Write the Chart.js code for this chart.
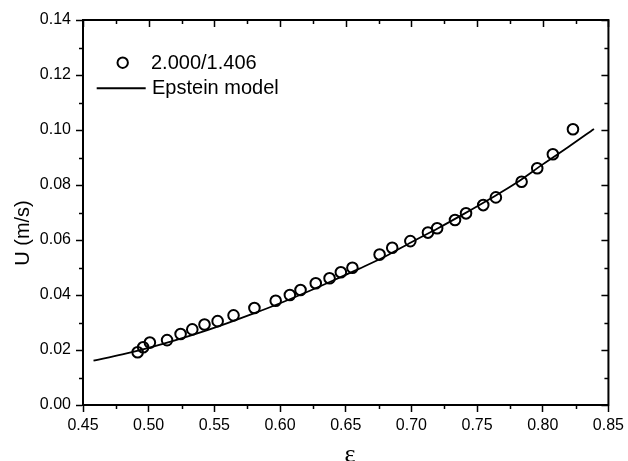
<!DOCTYPE html>
<html>
<head>
<meta charset="utf-8">
<script src="https://cdn.jsdelivr.net/npm/chart.js@4"></script>
<style>
  html, body { margin: 0; padding: 0; background: #fff; }
  #c { display: block; }
</style>
</head>
<body>
<canvas id="c" width="628" height="461"></canvas>
<script>
// ---- data ----
const epsMeasured = [0.4916, 0.4958, 0.5009, 0.5140, 0.5243, 0.5332, 0.5425, 0.5525, 0.5646, 0.5805,
                     0.5967, 0.6075, 0.6156, 0.6272, 0.6377, 0.6463, 0.6551, 0.6758, 0.6854, 0.6992,
                     0.7126, 0.7196, 0.7332, 0.7416, 0.7547, 0.7643, 0.7839, 0.7958, 0.8077, 0.8230];
const uMeasured   = [0.0192, 0.0210, 0.0227, 0.0236, 0.0258, 0.0275, 0.0293, 0.0305, 0.0326, 0.0353,
                     0.0379, 0.0400, 0.0418, 0.0443, 0.0461, 0.0483, 0.0499, 0.0547, 0.0572, 0.0596,
                     0.0627, 0.0643, 0.0673, 0.0697, 0.0727, 0.0755, 0.0812, 0.0861, 0.0912, 0.1003];

const epsModel = [0.458, 0.48, 0.50, 0.52, 0.54, 0.56, 0.58, 0.60, 0.62, 0.64,
                  0.66, 0.68, 0.70, 0.72, 0.74, 0.76, 0.78, 0.80, 0.82, 0.839];
const uModel   = [0.0161, 0.0184, 0.0208, 0.0235, 0.0265, 0.0298, 0.0333, 0.0370, 0.0410, 0.0452,
                  0.0495, 0.0540, 0.0592, 0.0642, 0.0695, 0.0750, 0.0808, 0.0875, 0.0940, 0.1004];

const seriesNames = ["2.000/1.406", "Epstein model"];
const xTitle = "\u03B5";
const yTitle = "U (m/s)";

const xTicks = [0.45, 0.50, 0.55, 0.60, 0.65, 0.70, 0.75, 0.80, 0.85];
const xMinorTicks = [0.475, 0.525, 0.575, 0.625, 0.675, 0.725, 0.775, 0.825];
const yTicks = [0.00, 0.02, 0.04, 0.06, 0.08, 0.10, 0.12, 0.14];
const yMinorTicks = [0.01, 0.03, 0.05, 0.07, 0.09, 0.11, 0.13];

// ---- build ----
const measuredPts = epsMeasured.map((e, i) => ({ x: e, y: uMeasured[i] }));
const modelPts = epsModel.map((e, i) => ({ x: e, y: uModel[i] }));

const MAJOR = 7, MINOR = 4;

const extras = {
  id: 'extras',
  afterDraw(chart) {
    const { ctx, chartArea: a, scales: { x, y } } = chart;
    ctx.save();
    ctx.strokeStyle = '#000';
    ctx.lineWidth = 2;
    ctx.lineCap = 'butt';
    // top and right frame
    ctx.beginPath();
    ctx.moveTo(a.left - 1, a.top);
    ctx.lineTo(a.right, a.top);
    ctx.lineTo(a.right, a.bottom + 1);
    ctx.stroke();

    ctx.lineWidth = 1.5;
    ctx.beginPath();
    xMinorTicks.forEach(v => {
      const px = Math.round(x.getPixelForValue(v)) + 0.5;
      ctx.moveTo(px, a.bottom); ctx.lineTo(px, a.bottom + MINOR);
      ctx.moveTo(px, a.top); ctx.lineTo(px, a.top + MINOR);
    });
    xTicks.forEach(v => {
      const px = Math.round(x.getPixelForValue(v)) + 0.5;
      ctx.moveTo(px, a.top); ctx.lineTo(px, a.top + MAJOR);
    });
    yMinorTicks.forEach(v => {
      const py = Math.round(y.getPixelForValue(v)) + 0.5;
      ctx.moveTo(a.left, py); ctx.lineTo(a.left - MINOR, py);
      ctx.moveTo(a.right, py); ctx.lineTo(a.right - MINOR, py);
    });
    yTicks.forEach(v => {
      const py = Math.round(y.getPixelForValue(v)) + 0.5;
      ctx.moveTo(a.right, py); ctx.lineTo(a.right - MAJOR, py);
    });
    ctx.stroke();

    // axis titles
    ctx.fillStyle = '#000';
    ctx.font = '20px "Liberation Sans", Arial, sans-serif';
    ctx.textAlign = 'center';
    ctx.textBaseline = 'middle';
    ctx.save();
    ctx.translate(23, 233);
    ctx.rotate(-Math.PI / 2);
    ctx.fillText(yTitle, 0, 0);
    ctx.restore();

    ctx.font = '26px "Liberation Serif", "DejaVu Serif", serif';
    ctx.textBaseline = 'alphabetic';
    ctx.fillText(xTitle, 350, 462);

    // legend
    ctx.font = '20px "Liberation Sans", Arial, sans-serif';
    ctx.textAlign = 'left';
    ctx.textBaseline = 'middle';
    ctx.lineWidth = 2;
    ctx.beginPath();
    ctx.arc(122.7, 62.7, 5.2, 0, Math.PI * 2);
    ctx.stroke();
    ctx.fillText(seriesNames[0], 151, 63);
    ctx.beginPath();
    ctx.moveTo(96.7, 88.3);
    ctx.lineTo(145.7, 88.3);
    ctx.stroke();
    ctx.fillText(seriesNames[1], 152, 88);
    ctx.restore();
  }
};

const tickFont = { family: '"Liberation Sans", Arial, sans-serif', size: 16 };

new Chart(document.getElementById('c'), {
  type: 'scatter',
  data: {
    datasets: [
      {
        label: seriesNames[1],
        data: modelPts,
        showLine: true,
        borderColor: '#000',
        borderWidth: 1.8,
        pointRadius: 0,
        pointHoverRadius: 0,
        cubicInterpolationMode: 'monotone',
        order: 2
      },
      {
        label: seriesNames[0],
        data: measuredPts,
        showLine: false,
        pointStyle: 'circle',
        pointRadius: 5.3,
        pointBorderWidth: 2,
        borderColor: '#000',
        backgroundColor: 'rgba(0,0,0,0)',
        order: 1
      }
    ]
  },
  options: {
    responsive: false,
    animation: false,
    events: [],
    layout: { padding: { top: 20, right: 16, left: 0, bottom: 0 } },
    plugins: {
      legend: { display: false },
      tooltip: { enabled: false }
    },
    scales: {
      x: {
        type: 'linear',
        min: 0.45, max: 0.85,
        afterBuildTicks: s => { s.ticks = xTicks.map(v => ({ value: v })); },
        afterFit: s => { s.height = 56; },
        ticks: {
          color: '#000', font: tickFont, padding: 4, maxRotation: 0,
          callback: v => v.toFixed(2)
        },
        grid: { drawOnChartArea: false, drawTicks: true, tickLength: MAJOR, color: '#000', tickWidth: 1.5 },
        border: { display: true, color: '#000', width: 2 }
      },
      y: {
        type: 'linear',
        min: 0, max: 0.14,
        afterBuildTicks: s => { s.ticks = yTicks.map(v => ({ value: v })); },
        afterFit: s => { s.width = 83; },
        ticks: {
          color: '#000', font: tickFont, padding: 5,
          callback: v => v.toFixed(2)
        },
        grid: { drawOnChartArea: false, drawTicks: true, tickLength: MAJOR, color: '#000', tickWidth: 1.5 },
        border: { display: true, color: '#000', width: 2 }
      }
    }
  },
  plugins: [extras]
});
</script>
</body>
</html>
